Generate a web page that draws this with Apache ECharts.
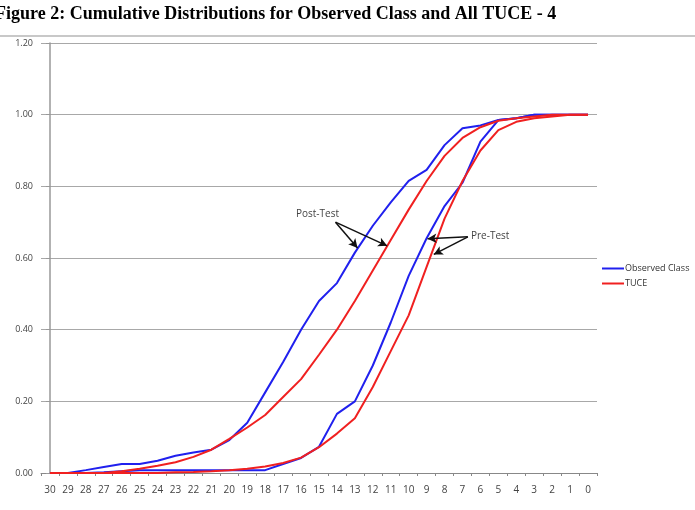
<!DOCTYPE html>
<html>
<head>
<meta charset="utf-8">
<script src="https://cdn.jsdelivr.net/npm/echarts@6/dist/echarts.min.js"></script>
<style>
  html, body { margin: 0; padding: 0; background: #fff; }
  #chart { width: 695px; height: 510px; }
</style>
</head>
<body>
<div id="chart"></div>
<script>
// scores on the test, counted down from 30 to 0
const categories = ['30','29','28','27','26','25','24','23','22','21','20','19','18','17','16','15','14','13','12','11','10','9','8','7','6','5','4','3','2','1','0'];
const yTicks = [0, 0.2, 0.4, 0.6, 0.8, 1.0, 1.2];

// cumulative share
const observedPost = [0, 0, 0.008, 0.017, 0.025, 0.025, 0.034, 0.048, 0.057, 0.065, 0.092, 0.14, 0.225, 0.31, 0.40, 0.48, 0.53, 0.615, 0.69, 0.755, 0.815, 0.846, 0.915, 0.962, 0.97, 0.985, 0.99, 1, 1, 1, 1];
const observedPre = [0, 0, 0, 0.002, 0.005, 0.008, 0.008, 0.008, 0.008, 0.008, 0.008, 0.008, 0.008, 0.025, 0.042, 0.073, 0.165, 0.20, 0.30, 0.42, 0.55, 0.655, 0.745, 0.81, 0.925, 0.985, 0.99, 1, 1, 1, 1];
const tucePost = [0, 0, 0, 0, 0.005, 0.012, 0.02, 0.03, 0.045, 0.065, 0.095, 0.127, 0.162, 0.212, 0.262, 0.33, 0.40, 0.48, 0.565, 0.65, 0.735, 0.815, 0.885, 0.935, 0.965, 0.983, 0.99, 0.995, 1, 1, 1];
const tucePre = [0, 0, 0, 0, 0, 0, 0, 0.002, 0.003, 0.005, 0.008, 0.012, 0.018, 0.028, 0.043, 0.072, 0.11, 0.153, 0.24, 0.34, 0.44, 0.575, 0.71, 0.815, 0.90, 0.957, 0.98, 0.99, 0.995, 1, 1];

// arrow callouts in (category position, value) units
const postArrows = [[[15.92, 0.70], [17.15, 0.628]], [[15.92, 0.70], [18.8, 0.634]]];
const preArrows = [[[23.3, 0.659], [21.05, 0.654]], [[23.3, 0.659], [21.4, 0.61]]];

const BLUE = '#2020ee';
const RED = '#f02020';
const labelFont = '"Open Sans", "Liberation Sans", sans-serif';

const chart = echarts.init(document.getElementById('chart'), null, { renderer: 'canvas' });

function lineSeries(name, data, color, z) {
  return {
    name: name,
    type: 'line',
    data: data,
    symbol: 'none',
    z: z,
    lineStyle: { color: color, width: 2 },
    itemStyle: { color: color },
    animation: false
  };
}

function arrowLines(pairs) {
  return pairs.map(p => [{ coord: p[0] }, { coord: p[1] }]);
}

const option = {
  animation: false,
  backgroundColor: '#fff',
  title: {
    text: 'Figure 2: Cumulative Distributions for Observed Class and All TUCE - 4',
    left: -10,
    top: 0,
    textStyle: {
      fontFamily: '"Liberation Serif", "Times New Roman", serif',
      fontWeight: 'bold',
      fontSize: 18,
      color: '#000'
    }
  },
  legend: {
    data: ['Observed Class', 'TUCE'],
    orient: 'vertical',
    left: 597,
    top: 259,
    icon: 'rect',
    itemWidth: 22,
    itemHeight: 2,
    itemGap: 6,
    textStyle: { fontFamily: labelFont, fontSize: 9, color: '#333', padding: [0, 0, 0, -4] }
  },
  grid: { left: 41, right: 98, top: 43, bottom: 37 },
  xAxis: [
    {
      type: 'category',
      data: categories,
      boundaryGap: true,
      axisLine: { lineStyle: { color: '#888', width: 1 } },
      axisTick: { show: true, length: 3, lineStyle: { color: '#888' } },
      axisLabel: { interval: 0, margin: 12, fontFamily: labelFont, fontSize: 10, color: '#444' },
      splitLine: { show: false }
    },
    {
      type: 'value',
      min: -0.5,
      max: 30.5,
      show: false
    }
  ],
  yAxis: {
    type: 'value',
    min: 0,
    max: 1.2,
    interval: 0.2,
    axisLine: { show: true, lineStyle: { color: '#999', width: 1.5 } },
    axisTick: { show: true, length: 4, lineStyle: { color: '#999' } },
    axisLabel: {
      fontFamily: labelFont, fontSize: 9, color: '#444', margin: 8,
      formatter: v => v.toFixed(2)
    },
    splitLine: { show: true, lineStyle: { color: '#a8a8a8', width: 1.2 } }
  },
  series: [
    lineSeries('Observed Class', observedPost, BLUE, 2),
    lineSeries('Observed Class', observedPre, BLUE, 2),
    lineSeries('TUCE', tucePost, RED, 3),
    lineSeries('TUCE', tucePre, RED, 3),
    {
      type: 'line',
      xAxisIndex: 1,
      data: [],
      silent: true,
      markLine: {
        silent: true,
        animation: false,
        symbol: ['none', 'arrow'],
        symbolSize: [7, 9],
        label: { show: false },
        lineStyle: { color: '#111', width: 1.5, type: 'solid' },
        data: arrowLines(postArrows).concat(arrowLines(preArrows))
      }
    }
  ],
  graphic: [
    {
      type: 'line',
      shape: { x1: 0, y1: 36, x2: 695, y2: 36 },
      style: { stroke: '#c8c8c8', lineWidth: 2 }
    },
    {
      type: 'text',
      left: 296,
      top: 209,
      style: { text: 'Post-Test', font: '10px ' + labelFont, fill: '#444' }
    },
    {
      type: 'text',
      left: 471,
      top: 231,
      style: { text: 'Pre-Test', font: '10px ' + labelFont, fill: '#444' }
    }
  ]
};

chart.setOption(option);
</script>
</body>
</html>
